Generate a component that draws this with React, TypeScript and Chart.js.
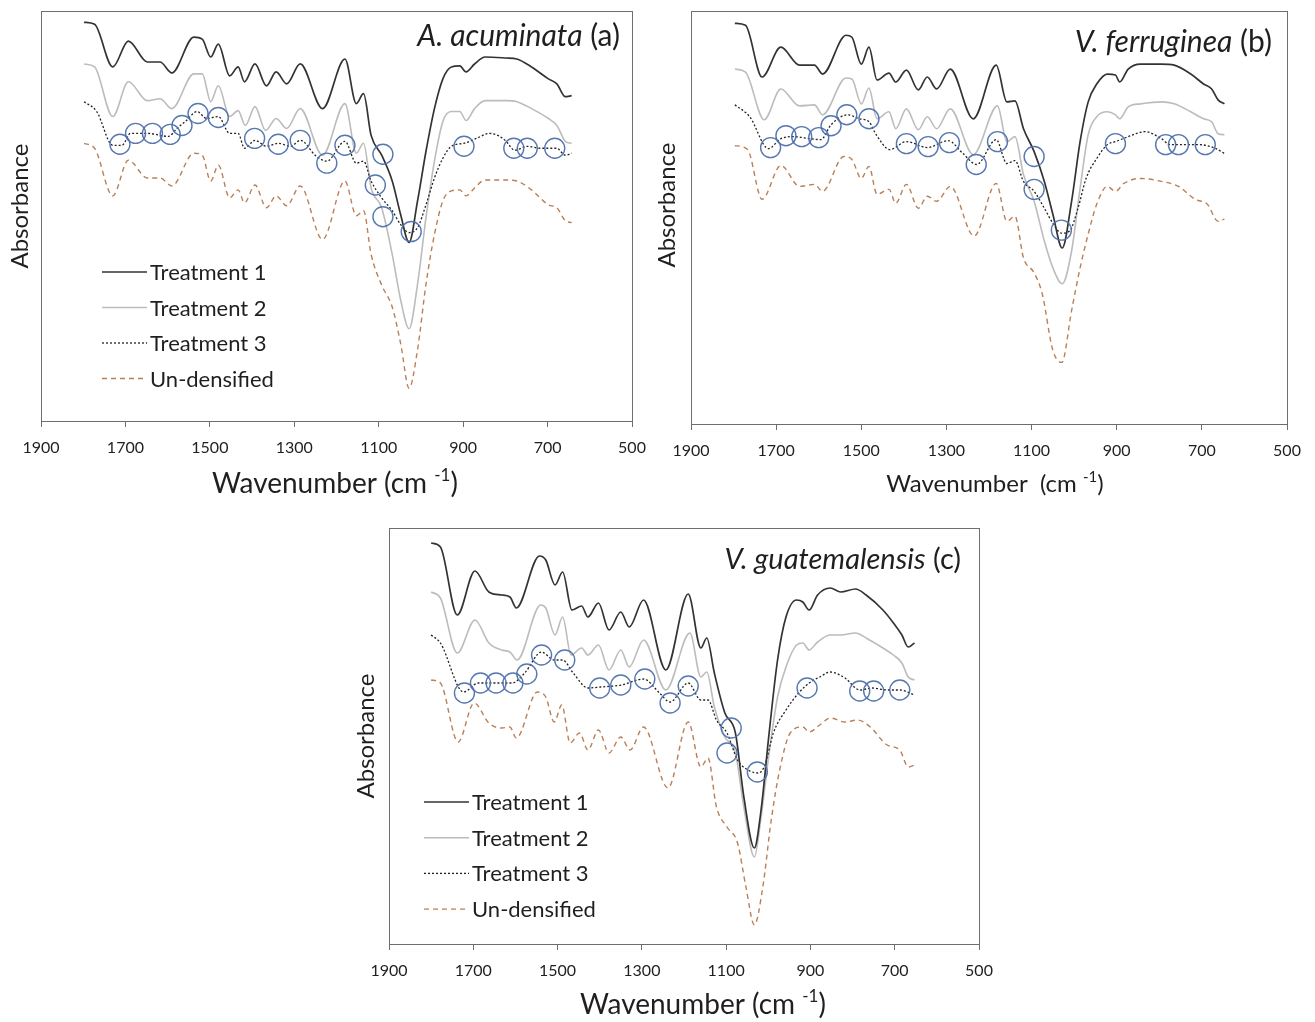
import React, { useEffect, useRef } from "react";
import { Chart, registerables } from "chart.js";
Chart.register(...registerables);

type P = [number, number][];

const FONT = "Lato, 'Open Sans', sans-serif";

// x-axis ticks (wavenumber, cm-1)
const X_MIN = 500;
const X_MAX = 1900;
const X_STEP = 200;

const SERIES_NAMES = ["Treatment 1", "Treatment 2", "Treatment 3", "Un-densified"];

// ---------- Panel (a) A. acuminata : [wavenumber, absorbance (a.u.)] ----------
const A_T1: P = [[1798,402],[1773,400],[1730,357],[1693,383],[1648,362],[1618,362],[1590,351],[1538,387],[1518,385],[1498,367],[1480,380],[1453,348],[1433,357],[1418,342],[1393,360],[1366,338],[1343,352],[1318,340],[1286,360],[1233,315],[1180,365],[1153,320],[1136,330],[1118,288],[1093,268],[1068,242],[1048,208],[1028,180],[1008,222],[988,272],[968,315],[948,345],[928,357],[908,358],[893,352],[873,360],[848,367],[798,366],[773,365],[738,357],[698,345],[678,340],[658,327],[643,328]];
const A_T2: P = [[1798,360],[1773,357],[1730,307],[1693,342],[1648,323],[1618,325],[1590,315],[1538,350],[1518,350],[1498,322],[1480,338],[1453,307],[1433,313],[1416,298],[1393,317],[1368,293],[1343,305],[1318,295],[1286,315],[1233,268],[1180,320],[1153,270],[1136,280],[1118,235],[1093,215],[1068,168],[1048,122],[1028,93],[1008,138],[988,205],[968,262],[948,302],[928,312],[908,312],[893,303],[873,315],[848,323],[798,323],[773,322],[738,315],[698,305],[678,298],[658,282],[643,280]];
const A_T3: P = [[1798,322],[1768,312],[1730,278],[1708,278],[1688,290],[1648,290],[1598,287],[1578,295],[1558,302],[1530,312],[1508,305],[1480,307],[1453,290],[1433,290],[1418,275],[1393,283],[1366,277],[1338,280],[1308,277],[1286,283],[1248,267],[1223,262],[1180,282],[1153,260],[1136,262],[1118,242],[1093,225],[1068,212],[1048,198],[1028,190],[1008,195],[988,218],[968,245],[948,265],[928,277],[898,280],[868,285],[838,290],[818,288],[798,282],[778,273],[748,277],[718,275],[678,275],[658,268],[643,270]];
const A_UND: P = [[1798,280],[1773,275],[1730,227],[1693,263],[1648,245],[1618,245],[1590,237],[1538,270],[1518,268],[1498,242],[1480,258],[1453,225],[1433,233],[1418,220],[1393,238],[1366,215],[1343,227],[1318,217],[1286,237],[1233,183],[1180,242],[1153,207],[1136,212],[1118,168],[1093,137],[1068,115],[1048,78],[1028,33],[1008,72],[988,138],[968,188],[948,222],[928,232],[908,233],[893,227],[873,235],[848,243],[798,243],[773,242],[738,233],[698,218],[678,215],[658,202],[643,200]];
const A_CIRCLES: P = [[1713,279],[1676,290],[1636,290],[1594,289],[1566,298],[1528,310],[1480,306],[1394,285],[1338,279],[1286,283],[1223,260],[1180,278],[1090,269],[1108,238],[1090,206],[1023,191],[898,277],[780,275],[748,275],[683,275]];

// ---------- Panel (b) V. ferruginea ----------
const B_T1: P = [[1797,403],[1772,401],[1733,349],[1689,379],[1645,361],[1610,361],[1591,352],[1536,391],[1522,389],[1500,362],[1482,379],[1463,346],[1435,353],[1419,344],[1394,356],[1366,336],[1345,349],[1323,337],[1291,357],[1237,307],[1183,361],[1158,324],[1139,325],[1119,297],[1094,274],[1070,244],[1050,211],[1028,177],[1006,224],[986,284],[967,324],[947,342],[922,352],[903,351],[893,344],[873,357],[844,362],[795,362],[765,361],[726,352],[696,342],[677,337],[662,326],[647,322]];
const B_T2: P = [[1797,357],[1772,354],[1728,306],[1689,337],[1645,320],[1610,321],[1591,311],[1536,348],[1522,347],[1500,322],[1482,338],[1463,307],[1435,314],[1419,297],[1394,317],[1366,296],[1345,309],[1323,297],[1291,317],[1237,271],[1180,320],[1158,284],[1139,289],[1119,251],[1094,224],[1070,184],[1050,157],[1028,141],[1006,174],[986,237],[967,291],[947,309],[922,314],[903,311],[893,307],[873,319],[844,322],[795,324],[765,322],[726,314],[696,307],[677,304],[662,292],[647,291]];
const B_T3: P = [[1797,321],[1762,309],[1718,277],[1689,287],[1659,289],[1620,287],[1595,286],[1571,301],[1532,311],[1504,307],[1482,304],[1465,291],[1433,276],[1394,284],[1345,278],[1296,285],[1261,272],[1229,261],[1183,286],[1158,262],[1139,265],[1119,244],[1094,234],[1070,217],[1050,202],[1030,192],[1011,194],[991,217],[972,247],[947,267],[922,281],[903,284],[873,289],[834,294],[795,287],[775,281],[746,281],[706,281],[667,277],[647,272]];
const B_UND: P = [[1797,280],[1767,276],[1733,226],[1689,260],[1645,239],[1610,241],[1591,234],[1541,269],[1522,266],[1500,247],[1482,259],[1463,231],[1435,236],[1419,222],[1394,241],[1366,217],[1345,229],[1323,224],[1291,239],[1235,189],[1183,242],[1158,204],[1139,209],[1119,167],[1094,152],[1075,131],[1050,74],[1029,62],[1006,114],[986,157],[967,191],[947,221],[922,239],[903,234],[883,242],[844,247],[795,244],[755,239],[716,226],[687,221],[662,204],[647,206]];
const B_CIRCLES: P = [[1713,278],[1677,290],[1640,289],[1600,288],[1571,300],[1534,311],[1482,307],[1394,282],[1343,279],[1293,283],[1230,261],[1180,284],[1094,269],[1094,236],[1030,195],[903,282],[785,281],[755,281],[692,281]];

// ---------- Panel (c) V. guatemalensis ----------
const C_T1: P = [[1800,401],[1778,397],[1738,329],[1696,373],[1663,352],[1633,349],[1613,347],[1598,336],[1543,388],[1528,384],[1506,359],[1488,372],[1466,334],[1443,338],[1428,327],[1403,341],[1378,314],[1350,332],[1330,317],[1296,344],[1243,274],[1190,350],[1160,296],[1146,306],[1128,271],[1103,231],[1078,211],[1058,147],[1033,96],[1018,131],[998,211],[978,284],[958,327],[933,344],[918,342],[903,334],[883,349],[853,356],[828,352],[793,355],[768,349],[728,334],[703,321],[683,309],[668,297],[653,301]];
const C_T2: P = [[1800,352],[1778,346],[1738,291],[1696,324],[1663,301],[1633,294],[1613,292],[1596,284],[1540,339],[1528,336],[1506,309],[1488,327],[1468,289],[1443,296],[1428,289],[1403,299],[1378,274],[1350,294],[1330,277],[1296,304],[1243,254],[1186,311],[1160,267],[1146,272],[1128,237],[1103,207],[1078,191],[1058,137],[1033,87],[1018,124],[998,191],[978,247],[958,277],[933,299],[918,301],[903,294],[883,302],[853,309],[828,309],[793,311],[768,306],[728,296],[703,289],[683,281],[668,267],[653,264]];
const C_T3: P = [[1800,309],[1778,301],[1723,252],[1688,261],[1648,261],[1608,261],[1578,271],[1538,292],[1508,284],[1488,284],[1463,271],[1428,256],[1398,257],[1348,259],[1296,265],[1258,251],[1233,242],[1190,261],[1160,244],[1143,244],[1123,224],[1098,211],[1073,184],[1048,174],[1023,171],[1008,179],[988,211],[958,234],[928,251],[903,261],[878,267],[853,272],[818,266],[783,254],[753,256],[718,254],[688,254],[653,249]];
const C_UND: P = [[1800,264],[1778,261],[1736,202],[1698,241],[1663,221],[1633,216],[1613,217],[1598,206],[1548,252],[1528,247],[1508,222],[1490,239],[1470,201],[1448,211],[1428,194],[1403,214],[1378,191],[1350,207],[1328,194],[1296,217],[1238,156],[1190,222],[1160,177],[1143,186],[1123,137],[1098,117],[1073,101],[1053,57],[1033,19],[1013,57],[993,124],[973,174],[948,211],[918,217],[903,212],[878,219],[853,226],[818,222],[788,224],[758,217],[718,199],[688,194],[668,177],[653,179]];
const C_CIRCLES: P = [[1721,251],[1683,261],[1646,261],[1606,261],[1573,270],[1538,289],[1483,284],[1400,256],[1350,259],[1293,265],[1233,241],[1190,258],[1088,216],[1098,191],[1026,172],[908,256],[783,253],[750,253],[688,254]];

interface PanelCfg {
  left: number; top: number; width: number; height: number;
  area: { left: number; top: number; right: number; bottom: number };
  yMax: number;
  data: P[];
  circles: P;
  species: string; tag: string; titleRight: number; titleY: number; titleSize: number;
  yTitle: { cx: number; cy: number; size: number };
  xTitle: { text: string; cx: number; y: number; size: number };
  legend: null | { x0: number; x1: number; y0: number; dy: number; size: number };
}

const STYLES = [
  { color: "#333333", width: 1.7, dash: [] as number[] },
  { color: "#bcbcbc", width: 1.6, dash: [] as number[] },
  { color: "#222222", width: 1.3, dash: [2, 2] },
  { color: "#bb7f57", width: 1.4, dash: [5, 4] },
];

const PANELS: PanelCfg[] = [
  {
    left: 0, top: 0, width: 660, height: 510,
    area: { left: 41, top: 8, right: 632, bottom: 421 }, yMax: 413,
    data: [A_T1, A_T2, A_T3, A_UND], circles: A_CIRCLES,
    species: "A. acuminata", tag: "(a)", titleRight: 620, titleY: 36, titleSize: 30,
    yTitle: { cx: 20, cy: 206, size: 24 },
    xTitle: { text: "Wavenumber (cm ", cx: 335, y: 484, size: 28 },
    legend: { x0: 102, x1: 147, y0: 272, dy: 35.5, size: 22 },
  },
  {
    left: 650, top: 0, width: 665, height: 510,
    area: { left: 41, top: 9, right: 637, bottom: 424 }, yMax: 415,
    data: [B_T1, B_T2, B_T3, B_UND], circles: B_CIRCLES,
    species: "V. ferruginea", tag: "(b)", titleRight: 622, titleY: 42, titleSize: 30,
    yTitle: { cx: 17, cy: 205, size: 24 },
    xTitle: { text: "Wavenumber  (cm ", cx: 345, y: 484, size: 24 },
    legend: null,
  },
  {
    left: 340, top: 510, width: 675, height: 512,
    area: { left: 49, top: 18, right: 639, bottom: 434 }, yMax: 416,
    data: [C_T1, C_T2, C_T3, C_UND], circles: C_CIRCLES,
    species: "V. guatemalensis", tag: "(c)", titleRight: 621, titleY: 50, titleSize: 29,
    yTitle: { cx: 26, cy: 226, size: 24 },
    xTitle: { text: "Wavenumber (cm ", cx: 363, y: 495, size: 28 },
    legend: { x0: 84, x1: 129, y0: 292, dy: 35.7, size: 22 },
  },
];

const TEXT = "#1f1f1f";

function Panel({ cfg }: { cfg: PanelCfg }) {
  const ref = useRef<HTMLCanvasElement>(null);
  useEffect(() => {
    const canvas = ref.current!;
    const deco = {
      id: "panelDeco",
      afterDatasetsDraw(chart: any) {
        const ctx = chart.ctx as CanvasRenderingContext2D;
        const ca = chart.chartArea;
        ctx.save();
        // frame
        ctx.strokeStyle = "#6e6e6e";
        ctx.lineWidth = 1;
        ctx.setLineDash([]);
        ctx.strokeRect(Math.round(ca.left) + 0.5, Math.round(ca.top) + 0.5, Math.round(ca.right - ca.left), Math.round(ca.bottom - ca.top));
        // panel title
        ctx.fillStyle = TEXT;
        ctx.textBaseline = "middle";
        ctx.textAlign = "left";
        ctx.font = `italic ${cfg.titleSize}px ${FONT}`;
        const w1 = ctx.measureText(cfg.species).width;
        ctx.font = `${cfg.titleSize}px ${FONT}`;
        const w2 = ctx.measureText(" " + cfg.tag).width;
        const sx = cfg.titleRight - w1 - w2;
        ctx.font = `italic ${cfg.titleSize}px ${FONT}`;
        ctx.fillText(cfg.species, sx, cfg.titleY);
        ctx.font = `${cfg.titleSize}px ${FONT}`;
        ctx.fillText(" " + cfg.tag, sx + w1, cfg.titleY);
        // y title
        ctx.save();
        ctx.translate(cfg.yTitle.cx, cfg.yTitle.cy);
        ctx.rotate(-Math.PI / 2);
        ctx.textAlign = "center";
        ctx.textBaseline = "middle";
        ctx.font = `${cfg.yTitle.size}px ${FONT}`;
        ctx.fillText("Absorbance", 0, 0);
        ctx.restore();
        // x title with superscript
        const t = cfg.xTitle;
        const mainF = `${t.size}px ${FONT}`;
        const supF = `${Math.round(t.size * 0.62)}px ${FONT}`;
        ctx.textAlign = "left";
        ctx.font = mainF;
        const m1 = ctx.measureText(t.text).width;
        const m3 = ctx.measureText(")").width;
        ctx.font = supF;
        const m2 = ctx.measureText("-1").width;
        let x = t.cx - (m1 + m2 + m3) / 2;
        ctx.textBaseline = "middle";
        ctx.font = mainF;
        ctx.fillText(t.text, x, t.y);
        x += m1;
        ctx.font = supF;
        ctx.fillText("-1", x, t.y - t.size * 0.3);
        x += m2;
        ctx.font = mainF;
        ctx.fillText(")", x, t.y);
        // legend
        if (cfg.legend) {
          const L = cfg.legend;
          SERIES_NAMES.forEach((name, i) => {
            const y = L.y0 + i * L.dy;
            const s = STYLES[i];
            ctx.strokeStyle = s.color;
            ctx.lineWidth = s.width;
            ctx.setLineDash(s.dash);
            ctx.beginPath();
            ctx.moveTo(L.x0, y);
            ctx.lineTo(L.x1, y);
            ctx.stroke();
            ctx.setLineDash([]);
            ctx.fillStyle = TEXT;
            ctx.font = `${L.size}px ${FONT}`;
            ctx.textBaseline = "middle";
            ctx.fillText(name, L.x1 + 3, y + 1);
          });
        }
        ctx.restore();
      },
    };

    const lineSets = cfg.data.map((d, i) => ({
      label: SERIES_NAMES[i],
      data: d.map(([x, y]) => ({ x, y })),
      borderColor: STYLES[i].color,
      borderWidth: STYLES[i].width,
      borderDash: STYLES[i].dash,
      pointRadius: 0,
      fill: false,
      cubicInterpolationMode: "monotone" as const,
    }));
    const circleSet = {
      label: "Marked bands",
      data: cfg.circles.map(([x, y]) => ({ x, y })),
      showLine: false,
      pointRadius: 10,
      pointHoverRadius: 10,
      pointStyle: "circle" as const,
      pointBorderColor: "rgba(78,112,172,0.95)",
      pointBackgroundColor: "rgba(0,0,0,0)",
      pointBorderWidth: 1.4,
      borderColor: "rgba(78,112,172,0.95)",
    };

    const chart = new Chart(canvas, {
      type: "line",
      data: { datasets: [circleSet as any, lineSets[0], lineSets[2], lineSets[1], lineSets[3]] },
      options: {
        animation: false,
        responsive: false,
        maintainAspectRatio: false,
        events: [],
        layout: { padding: { left: 0, top: cfg.area.top, right: cfg.width - cfg.area.right, bottom: 0 } },
        plugins: { legend: { display: false }, tooltip: { enabled: false } },
        scales: {
          x: {
            type: "linear",
            reverse: true,
            min: X_MIN,
            max: X_MAX,
            afterFit: (s: any) => { s.height = cfg.height - cfg.area.bottom; },
            ticks: {
              stepSize: X_STEP, color: TEXT, font: { family: FONT, size: 16 }, padding: 11,
              maxRotation: 0, autoSkip: false,
              callback: (v: any) => String(v),
            },
            grid: { display: true, drawOnChartArea: false, drawTicks: true, tickLength: 6, color: "#6e6e6e", lineWidth: 1 },
            border: { display: true, color: "#6e6e6e" },
          },
          y: {
            type: "linear",
            min: 0,
            max: cfg.yMax,
            afterFit: (s: any) => { s.width = cfg.area.left; },
            ticks: { display: false },
            grid: { display: false, drawTicks: false },
            border: { display: false },
            title: { display: false, text: "Absorbance" },
          },
        },
      },
      plugins: [deco],
    });
    return () => chart.destroy();
  }, [cfg]);
  return (
    <div style={{ position: "absolute", left: cfg.left, top: cfg.top, width: cfg.width, height: cfg.height }}>
      <canvas ref={ref} width={cfg.width} height={cfg.height} style={{ display: "block" }} />
    </div>
  );
}

export default function App() {
  return (
    <div style={{ position: "absolute", left: 0, top: 0, width: 1315, height: 1022, background: "#fff", fontFamily: FONT }}>
      {PANELS.map((p, i) => (
        <Panel key={i} cfg={p} />
      ))}
    </div>
  );
}
